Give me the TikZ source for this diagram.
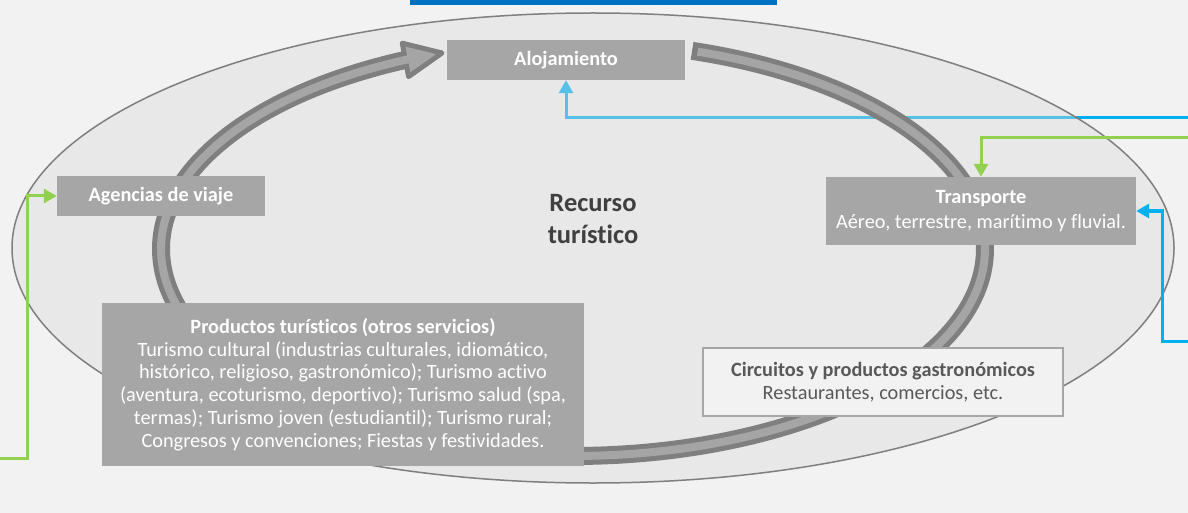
\documentclass[tikz,border=0pt]{standalone}
\usepackage{fontspec}
\setmainfont[Ligatures=NoCommon]{Carlito}
\usetikzlibrary{arrows.meta,backgrounds,calc}
\definecolor{bgcol}{HTML}{F2F2F2}
\definecolor{ellfill}{HTML}{D9D9D9}
\definecolor{ellline}{HTML}{7F7F7F}
\definecolor{ringdark}{HTML}{7F7F7F}
\definecolor{ringlight}{HTML}{A5A5A5}
\definecolor{boxgray}{HTML}{A6A6A6}
\definecolor{textgray}{HTML}{595959}
\definecolor{recgray}{HTML}{404040}
\definecolor{greenc}{HTML}{92D050}
\definecolor{bluec}{HTML}{00B0F0}
\definecolor{barblue}{HTML}{0070C0}
\tikzset{
  graybox/.style={fill=boxgray, text=white, inner sep=0pt, align=center,
    font=\fontsize{20.3}{22.7}\selectfont},
  lightbox/.style={fill=bgcol, draw=boxgray, line width=1.5pt, text=textgray,
    inner sep=0pt, align=center, font=\fontsize{20.3}{22.7}\selectfont},
  greenlink/.style={draw=greenc, line width=3pt, -{Triangle[length=13pt,width=14pt]}},
  bluelink/.style={draw=bluec, line width=3pt, -{Triangle[length=13pt,width=14pt]}},
}
\begin{document}
\begin{tikzpicture}[x=1pt,y=-1pt]
    \useasboundingbox (0,0) rectangle (1188,513);
    \fill[barblue] (410,0) rectangle (777,5);
    % outer ellipse
    \fill[ellfill, fill opacity=0.4] (593,248) ellipse [x radius=581, y radius=235];
    \draw[ellline, line width=1.5pt] (593,248) ellipse [x radius=581, y radius=235];
    % ring arrow
    \draw[ringdark, line width=18pt] plot[domain=73.2:-246, samples=300]
        ({573+412*cos(\x)},{249-207*sin(\x)});
    \coordinate (hb) at ({573+412*cos(114)},{249-207*sin(114)});
    \coordinate (ht) at (442,53);
    \coordinate (hb2) at ($(hb)!2.5pt!(ht)$);
    \filldraw[ringdark, line width=5pt, line join=round]
        ($(hb)!17pt!90:(ht)$) -- (ht) -- ($(hb)!17pt!-90:(ht)$) -- cycle;
    \draw[ringlight, line width=8pt] plot[domain=72.4:-246.8, samples=300]
        ({573+412*cos(\x)},{249-207*sin(\x)});
    \fill[ringlight] ($(hb2)!13pt!90:(ht)$) -- ($(ht)!6pt!(hb)$) -- ($(hb2)!13pt!-90:(ht)$) -- cycle;
    % boxes
    \node[graybox, minimum width=238pt, minimum height=40pt] (aloj) at (566,60) {\textbf{Alojamiento}};
    \node[graybox, minimum width=208pt, minimum height=40pt] (agen) at (161,196) {\textbf{Agencias de viaje}};
    \node[graybox, minimum width=310pt, minimum height=68pt] (transp) at (981,211)
        {\textbf{Transporte}\\[2pt]Aéreo, terrestre, marítimo y fluvial.};
    \node[graybox, minimum width=482pt, minimum height=163pt] (prod) at (343,384.5)
        {\textbf{Productos turísticos (otros servicios)}\\
         Turismo cultural (industrias culturales, idiomático,\\
         histórico, religioso, gastronómico); Turismo activo\\
         (aventura, ecoturismo, deportivo); Turismo salud (spa,\\
         termas); Turismo joven (estudiantil); Turismo rural;\\
         Congresos y convenciones; Fiestas y festividades.};
    \node[lightbox, minimum width=360pt, minimum height=68pt] (circ) at (883,382)
        {\textbf{Circuitos y productos gastronómicos}\\Restaurantes, comercios, etc.};
    \node[text=recgray, align=center, font=\fontsize{26.5}{31.5}\selectfont\bfseries] (recurso) at (593,219)
        {Recurso\\turístico};
    % links
    \coordinate (gR) at (1188,138);
    \coordinate (gL) at (0,458);
    \coordinate (bR) at (1188,341);
    \coordinate (bTop) at (1188,118);
    \draw[greenlink] (gR) -| (transp.north);
    \draw[greenlink] (gL) -- ++(27,0) |- (agen.west);
    \draw[bluelink] (bR) -- ++(-26,0) |- (transp.east);
    \begin{scope}[on background layer]
        \fill[bgcol] (0,0) rectangle (1188,513);
        \draw[bluelink] (bTop) -| (aloj.south);
    \end{scope}
\end{tikzpicture}
\end{document}
